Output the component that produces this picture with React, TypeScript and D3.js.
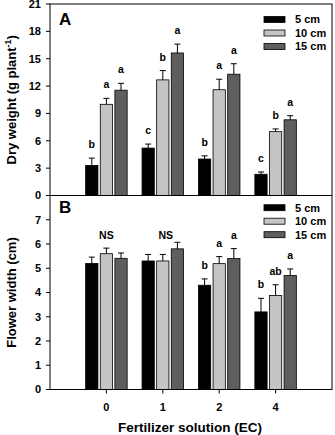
import React from "react";
import * as d3 from "d3";

// fertilizer EC levels on the x axis
const ecLevels = ["0", "1", "2", "4"];
const depths = ["5 cm", "10 cm", "15 cm"];
const depthColors = ["#000000", "#c4c4c4", "#5e5e5e"];

// panel A: dry weight (g plant-1), mean and mean + SE per depth
const dry5 = [3.3, 5.2, 4.0, 2.33];
const dry10 = [10.0, 12.68, 11.6, 7.0];
const dry15 = [11.55, 15.63, 13.3, 8.3];
const dry5Err = [4.1, 5.64, 4.35, 2.58];
const dry10Err = [10.65, 13.7, 12.75, 7.3];
const dry15Err = [12.3, 16.6, 14.45, 8.75];
const dryLetters = [
  ["b", "a", "a"],
  ["c", "b", "a"],
  ["b", "a", "a"],
  ["c", "b", "a"],
];

// panel B: flower width (cm)
const flw5 = [5.2, 5.3, 4.3, 3.2];
const flw10 = [5.6, 5.3, 5.19, 3.88];
const flw15 = [5.41, 5.8, 5.4, 4.7];
const flw5Err = [5.46, 5.57, 4.56, 3.76];
const flw10Err = [5.83, 5.57, 5.48, 4.32];
const flw15Err = [5.63, 6.07, 5.81, 4.97];
const flwLetters = [
  null,
  null,
  ["b", "a", "a"],
  ["b", "ab", "a"],
];
const flwNS = ["NS", "NS", null, null];

const dryTicks = [0, 3, 6, 9, 12, 15, 18, 21];
const flwTicks = [0, 1, 2, 3, 4, 5, 6, 7];

const FONT = "'Liberation Sans', Arial, Helvetica, sans-serif";
const left = 50;
const right = 332;
const top = 4;
const mid = 195.5;
const bottom = 389.5;

const x0 = d3.scalePoint<string>().domain(ecLevels).range([left, right]).padding(1);
const x1 = d3.scaleBand<string>().domain(depths).range([-20.75, 20.75]).paddingInner(0.16);
const yA = d3.scaleLinear().domain([0, 21]).range([mid, top]);
const yB = d3.scaleLinear().domain([0, 8]).range([bottom, mid]);

type PanelProps = {
  y: d3.ScaleLinear<number, number>;
  means: number[][];
  errs: number[][];
  letters: (string[] | null)[];
  ticks: number[];
};

const Panel = ({ y, means, errs, letters, ticks }: PanelProps) => (
  <g>
    {ecLevels.map((ec, gi) => (
      <g key={ec} transform={`translate(${x0(ec)},0)`}>
        {depths.map((dp, si) => {
          const bx = x1(dp)!;
          const bw = x1.bandwidth();
          const cx = bx + bw / 2;
          const v = means[si][gi];
          const e = errs[si][gi];
          const lt = letters[gi] ? letters[gi]![si] : null;
          return (
            <g key={dp}>
              <rect
                x={bx}
                y={y(v)}
                width={bw}
                height={y(0) - y(v)}
                fill={depthColors[si]}
                stroke="#000"
                strokeWidth={0.8}
              />
              <line x1={cx} x2={cx} y1={y(v)} y2={y(e)} stroke="#000" strokeWidth={1} />
              <line x1={cx - 3} x2={cx + 3} y1={y(e)} y2={y(e)} stroke="#000" strokeWidth={1} />
              {lt && (
                <text
                  x={cx}
                  y={y(e) - 10}
                  textAnchor="middle"
                  fontSize={10.5}
                  fontWeight="bold"
                  fontFamily={FONT}
                >
                  {lt}
                </text>
              )}
            </g>
          );
        })}
      </g>
    ))}
    {ticks.map((t) => (
      <g key={t}>
        <line x1={left - 4} x2={left} y1={y(t)} y2={y(t)} stroke="#000" />
        <text
          x={left - 9}
          y={y(t)}
          dy="0.36em"
          textAnchor="end"
          fontSize={11}
          fontWeight="bold"
          fontFamily={FONT}
        >
          {t}
        </text>
      </g>
    ))}
  </g>
);

const Legend = ({ y0 }: { y0: number }) => (
  <g>
    {depths.map((dp, i) => (
      <g key={dp} transform={`translate(264,${y0 + i * 13.5})`}>
        <rect x={0} y={-3} width={21} height={6} fill={depthColors[i]} stroke="#000" strokeWidth={0.8} />
        <text x={31} y={0} dy="0.36em" fontSize={11} fontWeight="bold" fontFamily={FONT}>
          {dp}
        </text>
      </g>
    ))}
  </g>
);

export default function App() {
  return (
    <svg
      width={335}
      height={435}
      style={{ position: "absolute", left: 0, top: 0, background: "#fff" }}
    >
      <Panel
        y={yA}
        means={[dry5, dry10, dry15]}
        errs={[dry5Err, dry10Err, dry15Err]}
        letters={dryLetters}
        ticks={dryTicks}
      />
      <Panel
        y={yB}
        means={[flw5, flw10, flw15]}
        errs={[flw5Err, flw10Err, flw15Err]}
        letters={flwLetters}
        ticks={flwTicks}
      />
      {flwNS.map((ns, gi) =>
        ns ? (
          <text
            key={gi}
            x={x0(ecLevels[gi])! + gi * 3}
            y={yB(6.2)}
            textAnchor="middle"
            fontSize={10.5}
            fontWeight="bold"
            fontFamily={FONT}
          >
            {ns}
          </text>
        ) : null
      )}

      {/* frames */}
      <rect x={left} y={top} width={right - left} height={bottom - top} fill="none" stroke="#000" strokeWidth={1} />
      <line x1={left} x2={right} y1={mid} y2={mid} stroke="#000" strokeWidth={1} />

      {/* x axis */}
      {ecLevels.map((ec) => (
        <g key={ec} transform={`translate(${x0(ec)},${bottom})`}>
          <line y1={0} y2={4} stroke="#000" />
          <text y={21} textAnchor="middle" fontSize={11} fontWeight="bold" fontFamily={FONT}>
            {ec}
          </text>
        </g>
      ))}
      <text x={190} y={432} textAnchor="middle" fontSize={13.5} fontWeight="bold" fontFamily={FONT}>
        Fertilizer solution (EC)
      </text>

      {/* y axis titles */}
      <text
        transform={`translate(16,${(top + mid) / 2}) rotate(-90)`}
        textAnchor="middle"
        fontSize={13}
        fontWeight="bold"
        fontFamily={FONT}
      >
        Dry weight (g plant
        <tspan fontSize={9} dy={-5}>-1</tspan>
        <tspan dy={5}>)</tspan>
      </text>
      <text
        transform={`translate(16,${(mid + bottom) / 2}) rotate(-90)`}
        textAnchor="middle"
        fontSize={13}
        fontWeight="bold"
        fontFamily={FONT}
      >
        Flower width (cm)
      </text>

      {/* panel letters */}
      <text x={59} y={25} fontSize={17} fontWeight="bold" fontFamily={FONT}>A</text>
      <text x={59} y={213} fontSize={17} fontWeight="bold" fontFamily={FONT}>B</text>

      <Legend y0={19.5} />
      <Legend y0={207.7} />
    </svg>
  );
}
